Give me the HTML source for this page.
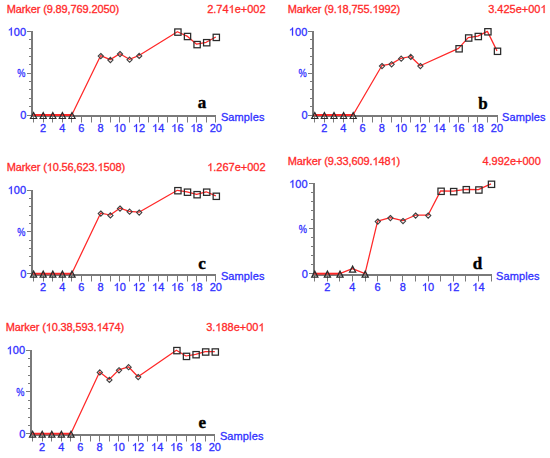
<!DOCTYPE html>
<html><head><meta charset="utf-8"><style>
html,body{margin:0;padding:0;background:#fff;}
svg{display:block;}
.t{font-family:"Liberation Sans",sans-serif;font-size:11px;stroke-width:0.3;}
.L{font-family:"Liberation Serif",serif;font-size:17px;font-weight:bold;fill:#000;stroke:#000;stroke-width:0.4;}
.ti{letter-spacing:-0.12px;}
.one{fill-opacity:0;stroke-opacity:0;}
.m{fill:none;stroke:#333333;stroke-width:1.2;}
.md{stroke:#404040;stroke-width:1.1;}
.ms{stroke:#2a2a2a;stroke-width:1.25;}
.mt{stroke:#2a2a2a;stroke-width:1.2;}
</style></head><body>
<svg width="550" height="458" viewBox="0 0 550 458">
<rect width="550" height="458" fill="#fff"/>
<g transform="translate(0,0)">
<text x="6.7" y="13" fill="#ff2a2a" stroke="#ff2a2a" class="t ti">Marker (9.89,769.2050)</text>
<text x="265.6" y="13" fill="#ff2a2a" stroke="#ff2a2a" class="t" text-anchor="end">2.74<tspan class="one">1</tspan>e+002</text>
</g>
<g transform="translate(0,0)">
<line x1="32" y1="31" x2="32" y2="117" stroke="#7a7a7a" stroke-width="2"/>
<line x1="31" y1="116" x2="216" y2="116" stroke="#7a7a7a" stroke-width="2"/>
<path d="M27 31.5H31 M29 39.5H31 M29 48.5H31 M29 56.5H31 M29 64.5H31 M27 73.5H31 M29 81.5H31 M29 89.5H31 M29 98.5H31 M29 106.5H31 M27 115.5H31" stroke="#7a7a7a" stroke-width="1"/>
<text transform="translate(26.1,35.5) scale(1.0,1)" fill="#3030ff" stroke="#3030ff" class="t" text-anchor="end"><tspan class="one">1</tspan>00</text>
<text transform="translate(25.4,77.25) scale(0.84,1)" fill="#3030ff" stroke="#3030ff" class="t" text-anchor="end">%</text>
<text transform="translate(26.3,119) scale(1.0,1)" fill="#3030ff" stroke="#3030ff" class="t" text-anchor="end">0</text>
<path d="M33.5 117V122.5 M43.5 117V122.5 M52.5 117V122.5 M62.5 117V122.5 M71.5 117V122.5 M81.5 117V122.5 M91.5 117V122.5 M100.5 117V122.5 M110.5 117V122.5 M119.5 117V122.5 M129.5 117V122.5 M139.5 117V122.5 M148.5 117V122.5 M158.5 117V122.5 M167.5 117V122.5 M177.5 117V122.5 M187.5 117V122.5 M196.5 117V122.5 M206.5 117V122.5 M215.5 117V122.5" stroke="#7a7a7a" stroke-width="1"/>
<text x="43" y="132" fill="#3030ff" stroke="#3030ff" class="t" text-anchor="middle">2</text>
<text x="62.2" y="132" fill="#3030ff" stroke="#3030ff" class="t" text-anchor="middle">4</text>
<text x="81.4" y="132" fill="#3030ff" stroke="#3030ff" class="t" text-anchor="middle">6</text>
<text x="100.6" y="132" fill="#3030ff" stroke="#3030ff" class="t" text-anchor="middle">8</text>
<text x="119.8" y="132" fill="#3030ff" stroke="#3030ff" class="t" text-anchor="middle"><tspan class="one">1</tspan>0</text>
<text x="139" y="132" fill="#3030ff" stroke="#3030ff" class="t" text-anchor="middle"><tspan class="one">1</tspan>2</text>
<text x="158.2" y="132" fill="#3030ff" stroke="#3030ff" class="t" text-anchor="middle"><tspan class="one">1</tspan>4</text>
<text x="177.4" y="132" fill="#3030ff" stroke="#3030ff" class="t" text-anchor="middle"><tspan class="one">1</tspan>6</text>
<text x="196.6" y="132" fill="#3030ff" stroke="#3030ff" class="t" text-anchor="middle"><tspan class="one">1</tspan>8</text>
<text x="215.8" y="132" fill="#3030ff" stroke="#3030ff" class="t" text-anchor="middle">20</text>
<text x="220.9" y="120.9" fill="#3030ff" stroke="#3030ff" class="t" style="letter-spacing:0.12px">Samples</text>
<text x="197.8" y="108.4" class="L">a</text>
<polyline points="33.4,115 43,115 52.6,115 62.2,115 71.8,115 100.6,55.7 110.2,59.6 119.8,53.7 129.4,59.3 139,55.5 177.4,31.7 187,36.1 196.6,44.2 206.2,42.3 215.8,37" fill="none" stroke="#ff2828" stroke-width="1.25" stroke-linejoin="round"/>
<line x1="33.4" y1="115" x2="71.8" y2="115" stroke="#ff2828" stroke-width="1.8"/>
<path d="M33.6 112.5L36.7 118.5L30.5 118.5Z" class="m mt"/>
<path d="M43.2 112.5L46.3 118.5L40.1 118.5Z" class="m mt"/>
<path d="M52.8 112.5L55.9 118.5L49.7 118.5Z" class="m mt"/>
<path d="M62.4 112.5L65.5 118.5L59.3 118.5Z" class="m mt"/>
<path d="M72 112.5L75.1 118.5L68.9 118.5Z" class="m mt"/>
<path d="M100.8 53.5L103.4 56.1L100.8 58.7L98.2 56.1Z" class="m md"/>
<path d="M110.4 57.4L113 60L110.4 62.6L107.8 60Z" class="m md"/>
<path d="M120 51.5L122.6 54.1L120 56.7L117.4 54.1Z" class="m md"/>
<path d="M129.6 57.1L132.2 59.7L129.6 62.3L127 59.7Z" class="m md"/>
<path d="M139.2 53.3L141.8 55.9L139.2 58.5L136.6 55.9Z" class="m md"/>
<rect x="174.75" y="28.95" width="6.3" height="6.3" class="m ms"/>
<rect x="184.35" y="33.35" width="6.3" height="6.3" class="m ms"/>
<rect x="193.95" y="41.45" width="6.3" height="6.3" class="m ms"/>
<rect x="203.55" y="39.55" width="6.3" height="6.3" class="m ms"/>
<rect x="213.15" y="34.25" width="6.3" height="6.3" class="m ms"/>
</g>
<g transform="translate(281,0)">
<text x="6.7" y="13" fill="#ff2a2a" stroke="#ff2a2a" class="t ti">Marker (9.<tspan class="one">1</tspan>8,755.<tspan class="one">1</tspan>992)</text>
<text x="265.6" y="13" fill="#ff2a2a" stroke="#ff2a2a" class="t" text-anchor="end">3.425e+00<tspan class="one">1</tspan></text>
</g>
<g transform="translate(281.2,0)">
<line x1="31.8" y1="31" x2="31.8" y2="117" stroke="#7a7a7a" stroke-width="2"/>
<line x1="30.8" y1="116" x2="216.8" y2="116" stroke="#7a7a7a" stroke-width="2"/>
<path d="M26.8 31.5H30.8 M28.8 39.5H30.8 M28.8 48.5H30.8 M28.8 56.5H30.8 M28.8 64.5H30.8 M26.8 73.5H30.8 M28.8 81.5H30.8 M28.8 89.5H30.8 M28.8 98.5H30.8 M28.8 106.5H30.8 M26.8 115.5H30.8" stroke="#7a7a7a" stroke-width="1"/>
<text transform="translate(26.1,35.5) scale(1.0,1)" fill="#3030ff" stroke="#3030ff" class="t" text-anchor="end"><tspan class="one">1</tspan>00</text>
<text transform="translate(25.4,77.25) scale(0.84,1)" fill="#3030ff" stroke="#3030ff" class="t" text-anchor="end">%</text>
<text transform="translate(26.3,119) scale(1.0,1)" fill="#3030ff" stroke="#3030ff" class="t" text-anchor="end">0</text>
<path d="M33.3 117V122.5 M43.3 117V122.5 M52.3 117V122.5 M62.3 117V122.5 M72.3 117V122.5 M81.3 117V122.5 M91.3 117V122.5 M100.3 117V122.5 M110.3 117V122.5 M120.3 117V122.5 M129.3 117V122.5 M139.3 117V122.5 M148.3 117V122.5 M158.3 117V122.5 M168.3 117V122.5 M177.3 117V122.5 M187.3 117V122.5 M196.3 117V122.5 M206.3 117V122.5 M216.3 117V122.5" stroke="#7a7a7a" stroke-width="1"/>
<text x="43" y="132" fill="#3030ff" stroke="#3030ff" class="t" text-anchor="middle">2</text>
<text x="62.2" y="132" fill="#3030ff" stroke="#3030ff" class="t" text-anchor="middle">4</text>
<text x="81.4" y="132" fill="#3030ff" stroke="#3030ff" class="t" text-anchor="middle">6</text>
<text x="100.6" y="132" fill="#3030ff" stroke="#3030ff" class="t" text-anchor="middle">8</text>
<text x="119.8" y="132" fill="#3030ff" stroke="#3030ff" class="t" text-anchor="middle"><tspan class="one">1</tspan>0</text>
<text x="139" y="132" fill="#3030ff" stroke="#3030ff" class="t" text-anchor="middle"><tspan class="one">1</tspan>2</text>
<text x="158.2" y="132" fill="#3030ff" stroke="#3030ff" class="t" text-anchor="middle"><tspan class="one">1</tspan>4</text>
<text x="177.4" y="132" fill="#3030ff" stroke="#3030ff" class="t" text-anchor="middle"><tspan class="one">1</tspan>6</text>
<text x="196.6" y="132" fill="#3030ff" stroke="#3030ff" class="t" text-anchor="middle"><tspan class="one">1</tspan>8</text>
<text x="215.8" y="132" fill="#3030ff" stroke="#3030ff" class="t" text-anchor="middle">20</text>
<text x="220.9" y="120.9" fill="#3030ff" stroke="#3030ff" class="t" style="letter-spacing:0.12px">Samples</text>
<text x="197.1" y="108.7" class="L">b</text>
<polyline points="33.4,115 43,115 52.6,115 62.2,115 71.8,115 100.6,65.7 110.2,63.9 119.8,58.3 129.4,56.5 139,65.7 177.4,48.4 187,37.6 196.6,36.1 206.2,31.4 215.8,50.9" fill="none" stroke="#ff2828" stroke-width="1.25" stroke-linejoin="round"/>
<line x1="33.4" y1="115" x2="71.8" y2="115" stroke="#ff2828" stroke-width="1.8"/>
<path d="M33.6 112.5L36.7 118.5L30.5 118.5Z" class="m mt"/>
<path d="M43.2 112.5L46.3 118.5L40.1 118.5Z" class="m mt"/>
<path d="M52.8 112.5L55.9 118.5L49.7 118.5Z" class="m mt"/>
<path d="M62.4 112.5L65.5 118.5L59.3 118.5Z" class="m mt"/>
<path d="M72 112.5L75.1 118.5L68.9 118.5Z" class="m mt"/>
<path d="M100.8 63.5L103.4 66.1L100.8 68.7L98.2 66.1Z" class="m md"/>
<path d="M110.4 61.7L113 64.3L110.4 66.9L107.8 64.3Z" class="m md"/>
<path d="M120 56.1L122.6 58.7L120 61.3L117.4 58.7Z" class="m md"/>
<path d="M129.6 54.3L132.2 56.9L129.6 59.5L127 56.9Z" class="m md"/>
<path d="M139.2 63.5L141.8 66.1L139.2 68.7L136.6 66.1Z" class="m md"/>
<rect x="174.75" y="45.65" width="6.3" height="6.3" class="m ms"/>
<rect x="184.35" y="34.85" width="6.3" height="6.3" class="m ms"/>
<rect x="193.95" y="33.35" width="6.3" height="6.3" class="m ms"/>
<rect x="203.55" y="28.65" width="6.3" height="6.3" class="m ms"/>
<rect x="213.15" y="48.15" width="6.3" height="6.3" class="m ms"/>
</g>
<g transform="translate(0,158.1)">
<text x="6.7" y="13" fill="#ff2a2a" stroke="#ff2a2a" class="t ti">Marker (<tspan class="one">1</tspan>0.56,623.<tspan class="one">1</tspan>508)</text>
<text x="265.6" y="13" fill="#ff2a2a" stroke="#ff2a2a" class="t" text-anchor="end"><tspan class="one">1</tspan>.267e+002</text>
</g>
<g transform="translate(0,158.6)">
<line x1="32" y1="31.4" x2="32" y2="117.4" stroke="#7a7a7a" stroke-width="2"/>
<line x1="31" y1="116.4" x2="216" y2="116.4" stroke="#7a7a7a" stroke-width="2"/>
<path d="M27 31.9H31 M29 39.9H31 M29 47.9H31 M29 56.9H31 M29 64.9H31 M27 72.9H31 M29 81.9H31 M29 89.9H31 M29 97.9H31 M29 106.9H31 M27 114.9H31" stroke="#7a7a7a" stroke-width="1"/>
<text transform="translate(26.1,35.5) scale(1.0,1)" fill="#3030ff" stroke="#3030ff" class="t" text-anchor="end"><tspan class="one">1</tspan>00</text>
<text transform="translate(25.4,77.25) scale(0.84,1)" fill="#3030ff" stroke="#3030ff" class="t" text-anchor="end">%</text>
<text transform="translate(26.3,119) scale(1.0,1)" fill="#3030ff" stroke="#3030ff" class="t" text-anchor="end">0</text>
<path d="M33.5 117.4V122.9 M43.5 117.4V122.9 M52.5 117.4V122.9 M62.5 117.4V122.9 M71.5 117.4V122.9 M81.5 117.4V122.9 M91.5 117.4V122.9 M100.5 117.4V122.9 M110.5 117.4V122.9 M119.5 117.4V122.9 M129.5 117.4V122.9 M139.5 117.4V122.9 M148.5 117.4V122.9 M158.5 117.4V122.9 M167.5 117.4V122.9 M177.5 117.4V122.9 M187.5 117.4V122.9 M196.5 117.4V122.9 M206.5 117.4V122.9 M215.5 117.4V122.9" stroke="#7a7a7a" stroke-width="1"/>
<text x="43" y="132.4" fill="#3030ff" stroke="#3030ff" class="t" text-anchor="middle">2</text>
<text x="62.2" y="132.4" fill="#3030ff" stroke="#3030ff" class="t" text-anchor="middle">4</text>
<text x="81.4" y="132.4" fill="#3030ff" stroke="#3030ff" class="t" text-anchor="middle">6</text>
<text x="100.6" y="132.4" fill="#3030ff" stroke="#3030ff" class="t" text-anchor="middle">8</text>
<text x="119.8" y="132.4" fill="#3030ff" stroke="#3030ff" class="t" text-anchor="middle"><tspan class="one">1</tspan>0</text>
<text x="139" y="132.4" fill="#3030ff" stroke="#3030ff" class="t" text-anchor="middle"><tspan class="one">1</tspan>2</text>
<text x="158.2" y="132.4" fill="#3030ff" stroke="#3030ff" class="t" text-anchor="middle"><tspan class="one">1</tspan>4</text>
<text x="177.4" y="132.4" fill="#3030ff" stroke="#3030ff" class="t" text-anchor="middle"><tspan class="one">1</tspan>6</text>
<text x="196.6" y="132.4" fill="#3030ff" stroke="#3030ff" class="t" text-anchor="middle"><tspan class="one">1</tspan>8</text>
<text x="215.8" y="132.4" fill="#3030ff" stroke="#3030ff" class="t" text-anchor="middle">20</text>
<text x="220.9" y="121.3" fill="#3030ff" stroke="#3030ff" class="t" style="letter-spacing:0.12px">Samples</text>
<text x="198.3" y="110.1" class="L">c</text>
<polyline points="33.4,115 43,115 52.6,115 62.2,115 71.8,115 100.6,54.6 110.2,56.4 119.8,49.6 129.4,52.7 139,53.6 177.4,31.7 187,33.2 196.6,35.7 206.2,33.2 215.8,37.3" fill="none" stroke="#ff2828" stroke-width="1.25" stroke-linejoin="round"/>
<line x1="33.4" y1="115" x2="71.8" y2="115" stroke="#ff2828" stroke-width="1.8"/>
<path d="M33.6 112.5L36.7 118.5L30.5 118.5Z" class="m mt"/>
<path d="M43.2 112.5L46.3 118.5L40.1 118.5Z" class="m mt"/>
<path d="M52.8 112.5L55.9 118.5L49.7 118.5Z" class="m mt"/>
<path d="M62.4 112.5L65.5 118.5L59.3 118.5Z" class="m mt"/>
<path d="M72 112.5L75.1 118.5L68.9 118.5Z" class="m mt"/>
<path d="M100.8 52.4L103.4 55L100.8 57.6L98.2 55Z" class="m md"/>
<path d="M110.4 54.2L113 56.8L110.4 59.4L107.8 56.8Z" class="m md"/>
<path d="M120 47.4L122.6 50L120 52.6L117.4 50Z" class="m md"/>
<path d="M129.6 50.5L132.2 53.1L129.6 55.7L127 53.1Z" class="m md"/>
<path d="M139.2 51.4L141.8 54L139.2 56.6L136.6 54Z" class="m md"/>
<rect x="174.75" y="28.95" width="6.3" height="6.3" class="m ms"/>
<rect x="184.35" y="30.45" width="6.3" height="6.3" class="m ms"/>
<rect x="193.95" y="32.95" width="6.3" height="6.3" class="m ms"/>
<rect x="203.55" y="30.45" width="6.3" height="6.3" class="m ms"/>
<rect x="213.15" y="34.55" width="6.3" height="6.3" class="m ms"/>
</g>
<g transform="translate(281,152.2)">
<text x="6.7" y="13" fill="#ff2a2a" stroke="#ff2a2a" class="t ti">Marker (9.33,609.<tspan class="one">1</tspan>48<tspan class="one">1</tspan>)</text>
<text x="259.8" y="13" fill="#ff2a2a" stroke="#ff2a2a" class="t" text-anchor="end">4.992e+000</text>
</g>
<g transform="translate(281.5,152.3)">
<line x1="32.5" y1="30.7" x2="32.5" y2="123.7" stroke="#7a7a7a" stroke-width="2"/>
<line x1="31.5" y1="122.7" x2="210.5" y2="122.7" stroke="#7a7a7a" stroke-width="2"/>
<path d="M27.5 31.2H31.5 M29.5 40.2H31.5 M29.5 49.2H31.5 M29.5 58.2H31.5 M29.5 67.2H31.5 M27.5 76.2H31.5 M29.5 85.2H31.5 M29.5 94.2H31.5 M29.5 103.2H31.5 M29.5 112.2H31.5 M27.5 121.2H31.5" stroke="#7a7a7a" stroke-width="1"/>
<text transform="translate(26.1,35.5) scale(1.0,1)" fill="#3030ff" stroke="#3030ff" class="t" text-anchor="end"><tspan class="one">1</tspan>00</text>
<text transform="translate(25.4,80.4) scale(0.84,1)" fill="#3030ff" stroke="#3030ff" class="t" text-anchor="end">%</text>
<text transform="translate(26.3,125.3) scale(1.0,1)" fill="#3030ff" stroke="#3030ff" class="t" text-anchor="end">0</text>
<path d="M33 123.7V129.2 M46 123.7V129.2 M58 123.7V129.2 M71 123.7V129.2 M84 123.7V129.2 M96 123.7V129.2 M109 123.7V129.2 M121 123.7V129.2 M134 123.7V129.2 M147 123.7V129.2 M159 123.7V129.2 M172 123.7V129.2 M184 123.7V129.2 M197 123.7V129.2 M210 123.7V129.2" stroke="#7a7a7a" stroke-width="1"/>
<text x="45.7" y="138.7" fill="#3030ff" stroke="#3030ff" class="t" text-anchor="middle">2</text>
<text x="70.9" y="138.7" fill="#3030ff" stroke="#3030ff" class="t" text-anchor="middle">4</text>
<text x="96.1" y="138.7" fill="#3030ff" stroke="#3030ff" class="t" text-anchor="middle">6</text>
<text x="121.3" y="138.7" fill="#3030ff" stroke="#3030ff" class="t" text-anchor="middle">8</text>
<text x="146.5" y="138.7" fill="#3030ff" stroke="#3030ff" class="t" text-anchor="middle"><tspan class="one">1</tspan>0</text>
<text x="171.7" y="138.7" fill="#3030ff" stroke="#3030ff" class="t" text-anchor="middle"><tspan class="one">1</tspan>2</text>
<text x="196.9" y="138.7" fill="#3030ff" stroke="#3030ff" class="t" text-anchor="middle"><tspan class="one">1</tspan>4</text>
<text x="214.6" y="127.6" fill="#3030ff" stroke="#3030ff" class="t" style="letter-spacing:0.12px">Samples</text>
<text x="191.2" y="116.4" class="L">d</text>
<polyline points="33.1,121.3 45.7,121.3 58.3,121.3 70.9,116.3 83.5,121.3 96.1,68.9 108.7,65.4 121.3,68.4 133.9,62.9 146.5,62.9 159.1,38.6 171.7,38.9 184.3,37 196.9,37.3 209.5,31.6" fill="none" stroke="#ff2828" stroke-width="1.25" stroke-linejoin="round"/>
<line x1="33.1" y1="121.3" x2="58.3" y2="121.3" stroke="#ff2828" stroke-width="1.8"/>
<path d="M33.3 118.8L36.4 124.8L30.2 124.8Z" class="m mt"/>
<path d="M45.9 118.8L49 124.8L42.8 124.8Z" class="m mt"/>
<path d="M58.5 118.8L61.6 124.8L55.4 124.8Z" class="m mt"/>
<path d="M71.1 113.8L74.2 119.8L68 119.8Z" class="m mt"/>
<path d="M83.7 118.8L86.8 124.8L80.6 124.8Z" class="m mt"/>
<path d="M96.3 66.7L98.9 69.3L96.3 71.9L93.7 69.3Z" class="m md"/>
<path d="M108.9 63.2L111.5 65.8L108.9 68.4L106.3 65.8Z" class="m md"/>
<path d="M121.5 66.2L124.1 68.8L121.5 71.4L118.9 68.8Z" class="m md"/>
<path d="M134.1 60.7L136.7 63.3L134.1 65.9L131.5 63.3Z" class="m md"/>
<path d="M146.7 60.7L149.3 63.3L146.7 65.9L144.1 63.3Z" class="m md"/>
<rect x="156.45" y="35.85" width="6.3" height="6.3" class="m ms"/>
<rect x="169.05" y="36.15" width="6.3" height="6.3" class="m ms"/>
<rect x="181.65" y="34.25" width="6.3" height="6.3" class="m ms"/>
<rect x="194.25" y="34.55" width="6.3" height="6.3" class="m ms"/>
<rect x="206.85" y="28.85" width="6.3" height="6.3" class="m ms"/>
</g>
<g transform="translate(-1,318.2)">
<text x="6.7" y="13" fill="#ff2a2a" stroke="#ff2a2a" class="t ti">Marker (<tspan class="one">1</tspan>0.38,593.<tspan class="one">1</tspan>474)</text>
<text x="265.6" y="13" fill="#ff2a2a" stroke="#ff2a2a" class="t" text-anchor="end">3.<tspan class="one">1</tspan>88e+00<tspan class="one">1</tspan></text>
</g>
<g transform="translate(-1,318.7)">
<line x1="32" y1="31.3" x2="32" y2="117.3" stroke="#7a7a7a" stroke-width="2"/>
<line x1="31" y1="116.3" x2="216" y2="116.3" stroke="#7a7a7a" stroke-width="2"/>
<path d="M27 31.8H31 M29 39.8H31 M29 47.8H31 M29 56.8H31 M29 64.8H31 M27 72.8H31 M29 81.8H31 M29 89.8H31 M29 98.8H31 M29 106.8H31 M27 114.8H31" stroke="#7a7a7a" stroke-width="1"/>
<text transform="translate(26.1,35.5) scale(1.0,1)" fill="#3030ff" stroke="#3030ff" class="t" text-anchor="end"><tspan class="one">1</tspan>00</text>
<text transform="translate(25.4,77.25) scale(0.84,1)" fill="#3030ff" stroke="#3030ff" class="t" text-anchor="end">%</text>
<text transform="translate(26.3,119) scale(1.0,1)" fill="#3030ff" stroke="#3030ff" class="t" text-anchor="end">0</text>
<path d="M33.5 117.3V122.8 M43.5 117.3V122.8 M52.5 117.3V122.8 M62.5 117.3V122.8 M71.5 117.3V122.8 M81.5 117.3V122.8 M91.5 117.3V122.8 M100.5 117.3V122.8 M110.5 117.3V122.8 M119.5 117.3V122.8 M129.5 117.3V122.8 M139.5 117.3V122.8 M148.5 117.3V122.8 M158.5 117.3V122.8 M167.5 117.3V122.8 M177.5 117.3V122.8 M187.5 117.3V122.8 M196.5 117.3V122.8 M206.5 117.3V122.8 M215.5 117.3V122.8" stroke="#7a7a7a" stroke-width="1"/>
<text x="43" y="132.3" fill="#3030ff" stroke="#3030ff" class="t" text-anchor="middle">2</text>
<text x="62.2" y="132.3" fill="#3030ff" stroke="#3030ff" class="t" text-anchor="middle">4</text>
<text x="81.4" y="132.3" fill="#3030ff" stroke="#3030ff" class="t" text-anchor="middle">6</text>
<text x="100.6" y="132.3" fill="#3030ff" stroke="#3030ff" class="t" text-anchor="middle">8</text>
<text x="119.8" y="132.3" fill="#3030ff" stroke="#3030ff" class="t" text-anchor="middle"><tspan class="one">1</tspan>0</text>
<text x="139" y="132.3" fill="#3030ff" stroke="#3030ff" class="t" text-anchor="middle"><tspan class="one">1</tspan>2</text>
<text x="158.2" y="132.3" fill="#3030ff" stroke="#3030ff" class="t" text-anchor="middle"><tspan class="one">1</tspan>4</text>
<text x="177.4" y="132.3" fill="#3030ff" stroke="#3030ff" class="t" text-anchor="middle"><tspan class="one">1</tspan>6</text>
<text x="196.6" y="132.3" fill="#3030ff" stroke="#3030ff" class="t" text-anchor="middle"><tspan class="one">1</tspan>8</text>
<text x="215.8" y="132.3" fill="#3030ff" stroke="#3030ff" class="t" text-anchor="middle">20</text>
<text x="220.9" y="121.2" fill="#3030ff" stroke="#3030ff" class="t" style="letter-spacing:0.12px">Samples</text>
<text x="199.4" y="109.1" class="L">e</text>
<polyline points="33.4,115 43,115 52.6,115 62.2,115 71.8,115 100.6,53.3 110.2,60.8 119.8,51.2 129.4,48.1 139,58 177.4,31.5 187,37.3 196.6,35.6 206.2,32.9 215.8,32.9" fill="none" stroke="#ff2828" stroke-width="1.25" stroke-linejoin="round"/>
<line x1="33.4" y1="115" x2="71.8" y2="115" stroke="#ff2828" stroke-width="1.8"/>
<path d="M33.6 112.5L36.7 118.5L30.5 118.5Z" class="m mt"/>
<path d="M43.2 112.5L46.3 118.5L40.1 118.5Z" class="m mt"/>
<path d="M52.8 112.5L55.9 118.5L49.7 118.5Z" class="m mt"/>
<path d="M62.4 112.5L65.5 118.5L59.3 118.5Z" class="m mt"/>
<path d="M72 112.5L75.1 118.5L68.9 118.5Z" class="m mt"/>
<path d="M100.8 51.1L103.4 53.7L100.8 56.3L98.2 53.7Z" class="m md"/>
<path d="M110.4 58.6L113 61.2L110.4 63.8L107.8 61.2Z" class="m md"/>
<path d="M120 49L122.6 51.6L120 54.2L117.4 51.6Z" class="m md"/>
<path d="M129.6 45.9L132.2 48.5L129.6 51.1L127 48.5Z" class="m md"/>
<path d="M139.2 55.8L141.8 58.4L139.2 61L136.6 58.4Z" class="m md"/>
<rect x="174.75" y="28.75" width="6.3" height="6.3" class="m ms"/>
<rect x="184.35" y="34.55" width="6.3" height="6.3" class="m ms"/>
<rect x="193.95" y="32.85" width="6.3" height="6.3" class="m ms"/>
<rect x="203.55" y="30.15" width="6.3" height="6.3" class="m ms"/>
<rect x="213.15" y="30.15" width="6.3" height="6.3" class="m ms"/>
</g>
<path transform="translate(228.57,13.00) scale(0.005371,-0.005371)" d="M763 0H583V1147Q518 1085 412.5 1023T223 930V1104Q375 1175 489 1276T650 1472H763V0Z" fill="#ff2a2a" stroke="#ff2a2a" stroke-width="0.3" vector-effect="non-scaling-stroke"/>
<path transform="translate(7.73,35.50) scale(0.005371,-0.005371)" d="M763 0H583V1147Q518 1085 412.5 1023T223 930V1104Q375 1175 489 1276T650 1472H763V0Z" fill="#3030ff" stroke="#3030ff" stroke-width="0.3" vector-effect="non-scaling-stroke"/>
<path transform="translate(113.68,132.00) scale(0.005371,-0.005371)" d="M763 0H583V1147Q518 1085 412.5 1023T223 930V1104Q375 1175 489 1276T650 1472H763V0Z" fill="#3030ff" stroke="#3030ff" stroke-width="0.3" vector-effect="non-scaling-stroke"/>
<path transform="translate(132.88,132.00) scale(0.005371,-0.005371)" d="M763 0H583V1147Q518 1085 412.5 1023T223 930V1104Q375 1175 489 1276T650 1472H763V0Z" fill="#3030ff" stroke="#3030ff" stroke-width="0.3" vector-effect="non-scaling-stroke"/>
<path transform="translate(152.07,132.00) scale(0.005371,-0.005371)" d="M763 0H583V1147Q518 1085 412.5 1023T223 930V1104Q375 1175 489 1276T650 1472H763V0Z" fill="#3030ff" stroke="#3030ff" stroke-width="0.3" vector-effect="non-scaling-stroke"/>
<path transform="translate(171.27,132.00) scale(0.005371,-0.005371)" d="M763 0H583V1147Q518 1085 412.5 1023T223 930V1104Q375 1175 489 1276T650 1472H763V0Z" fill="#3030ff" stroke="#3030ff" stroke-width="0.3" vector-effect="non-scaling-stroke"/>
<path transform="translate(190.48,132.00) scale(0.005371,-0.005371)" d="M763 0H583V1147Q518 1085 412.5 1023T223 930V1104Q375 1175 489 1276T650 1472H763V0Z" fill="#3030ff" stroke="#3030ff" stroke-width="0.3" vector-effect="non-scaling-stroke"/>
<path transform="translate(336.62,13.00) scale(0.005371,-0.005371)" d="M763 0H583V1147Q518 1085 412.5 1023T223 930V1104Q375 1175 489 1276T650 1472H763V0Z" fill="#ff2a2a" stroke="#ff2a2a" stroke-width="0.3" vector-effect="non-scaling-stroke"/>
<path transform="translate(372.50,13.00) scale(0.005371,-0.005371)" d="M763 0H583V1147Q518 1085 412.5 1023T223 930V1104Q375 1175 489 1276T650 1472H763V0Z" fill="#ff2a2a" stroke="#ff2a2a" stroke-width="0.3" vector-effect="non-scaling-stroke"/>
<path transform="translate(540.47,13.00) scale(0.005371,-0.005371)" d="M763 0H583V1147Q518 1085 412.5 1023T223 930V1104Q375 1175 489 1276T650 1472H763V0Z" fill="#ff2a2a" stroke="#ff2a2a" stroke-width="0.3" vector-effect="non-scaling-stroke"/>
<path transform="translate(288.93,35.50) scale(0.005371,-0.005371)" d="M763 0H583V1147Q518 1085 412.5 1023T223 930V1104Q375 1175 489 1276T650 1472H763V0Z" fill="#3030ff" stroke="#3030ff" stroke-width="0.3" vector-effect="non-scaling-stroke"/>
<path transform="translate(394.88,132.00) scale(0.005371,-0.005371)" d="M763 0H583V1147Q518 1085 412.5 1023T223 930V1104Q375 1175 489 1276T650 1472H763V0Z" fill="#3030ff" stroke="#3030ff" stroke-width="0.3" vector-effect="non-scaling-stroke"/>
<path transform="translate(414.08,132.00) scale(0.005371,-0.005371)" d="M763 0H583V1147Q518 1085 412.5 1023T223 930V1104Q375 1175 489 1276T650 1472H763V0Z" fill="#3030ff" stroke="#3030ff" stroke-width="0.3" vector-effect="non-scaling-stroke"/>
<path transform="translate(433.28,132.00) scale(0.005371,-0.005371)" d="M763 0H583V1147Q518 1085 412.5 1023T223 930V1104Q375 1175 489 1276T650 1472H763V0Z" fill="#3030ff" stroke="#3030ff" stroke-width="0.3" vector-effect="non-scaling-stroke"/>
<path transform="translate(452.48,132.00) scale(0.005371,-0.005371)" d="M763 0H583V1147Q518 1085 412.5 1023T223 930V1104Q375 1175 489 1276T650 1472H763V0Z" fill="#3030ff" stroke="#3030ff" stroke-width="0.3" vector-effect="non-scaling-stroke"/>
<path transform="translate(471.68,132.00) scale(0.005371,-0.005371)" d="M763 0H583V1147Q518 1085 412.5 1023T223 930V1104Q375 1175 489 1276T650 1472H763V0Z" fill="#3030ff" stroke="#3030ff" stroke-width="0.3" vector-effect="non-scaling-stroke"/>
<path transform="translate(46.68,171.10) scale(0.005371,-0.005371)" d="M763 0H583V1147Q518 1085 412.5 1023T223 930V1104Q375 1175 489 1276T650 1472H763V0Z" fill="#ff2a2a" stroke="#ff2a2a" stroke-width="0.3" vector-effect="non-scaling-stroke"/>
<path transform="translate(97.48,171.10) scale(0.005371,-0.005371)" d="M763 0H583V1147Q518 1085 412.5 1023T223 930V1104Q375 1175 489 1276T650 1472H763V0Z" fill="#ff2a2a" stroke="#ff2a2a" stroke-width="0.3" vector-effect="non-scaling-stroke"/>
<path transform="translate(207.16,171.10) scale(0.005371,-0.005371)" d="M763 0H583V1147Q518 1085 412.5 1023T223 930V1104Q375 1175 489 1276T650 1472H763V0Z" fill="#ff2a2a" stroke="#ff2a2a" stroke-width="0.3" vector-effect="non-scaling-stroke"/>
<path transform="translate(7.73,194.10) scale(0.005371,-0.005371)" d="M763 0H583V1147Q518 1085 412.5 1023T223 930V1104Q375 1175 489 1276T650 1472H763V0Z" fill="#3030ff" stroke="#3030ff" stroke-width="0.3" vector-effect="non-scaling-stroke"/>
<path transform="translate(113.68,291.00) scale(0.005371,-0.005371)" d="M763 0H583V1147Q518 1085 412.5 1023T223 930V1104Q375 1175 489 1276T650 1472H763V0Z" fill="#3030ff" stroke="#3030ff" stroke-width="0.3" vector-effect="non-scaling-stroke"/>
<path transform="translate(132.88,291.00) scale(0.005371,-0.005371)" d="M763 0H583V1147Q518 1085 412.5 1023T223 930V1104Q375 1175 489 1276T650 1472H763V0Z" fill="#3030ff" stroke="#3030ff" stroke-width="0.3" vector-effect="non-scaling-stroke"/>
<path transform="translate(152.07,291.00) scale(0.005371,-0.005371)" d="M763 0H583V1147Q518 1085 412.5 1023T223 930V1104Q375 1175 489 1276T650 1472H763V0Z" fill="#3030ff" stroke="#3030ff" stroke-width="0.3" vector-effect="non-scaling-stroke"/>
<path transform="translate(171.27,291.00) scale(0.005371,-0.005371)" d="M763 0H583V1147Q518 1085 412.5 1023T223 930V1104Q375 1175 489 1276T650 1472H763V0Z" fill="#3030ff" stroke="#3030ff" stroke-width="0.3" vector-effect="non-scaling-stroke"/>
<path transform="translate(190.48,291.00) scale(0.005371,-0.005371)" d="M763 0H583V1147Q518 1085 412.5 1023T223 930V1104Q375 1175 489 1276T650 1472H763V0Z" fill="#3030ff" stroke="#3030ff" stroke-width="0.3" vector-effect="non-scaling-stroke"/>
<path transform="translate(372.48,165.20) scale(0.005371,-0.005371)" d="M763 0H583V1147Q518 1085 412.5 1023T223 930V1104Q375 1175 489 1276T650 1472H763V0Z" fill="#ff2a2a" stroke="#ff2a2a" stroke-width="0.3" vector-effect="non-scaling-stroke"/>
<path transform="translate(390.48,165.20) scale(0.005371,-0.005371)" d="M763 0H583V1147Q518 1085 412.5 1023T223 930V1104Q375 1175 489 1276T650 1472H763V0Z" fill="#ff2a2a" stroke="#ff2a2a" stroke-width="0.3" vector-effect="non-scaling-stroke"/>
<path transform="translate(289.23,187.80) scale(0.005371,-0.005371)" d="M763 0H583V1147Q518 1085 412.5 1023T223 930V1104Q375 1175 489 1276T650 1472H763V0Z" fill="#3030ff" stroke="#3030ff" stroke-width="0.3" vector-effect="non-scaling-stroke"/>
<path transform="translate(421.88,291.00) scale(0.005371,-0.005371)" d="M763 0H583V1147Q518 1085 412.5 1023T223 930V1104Q375 1175 489 1276T650 1472H763V0Z" fill="#3030ff" stroke="#3030ff" stroke-width="0.3" vector-effect="non-scaling-stroke"/>
<path transform="translate(447.08,291.00) scale(0.005371,-0.005371)" d="M763 0H583V1147Q518 1085 412.5 1023T223 930V1104Q375 1175 489 1276T650 1472H763V0Z" fill="#3030ff" stroke="#3030ff" stroke-width="0.3" vector-effect="non-scaling-stroke"/>
<path transform="translate(472.27,291.00) scale(0.005371,-0.005371)" d="M763 0H583V1147Q518 1085 412.5 1023T223 930V1104Q375 1175 489 1276T650 1472H763V0Z" fill="#3030ff" stroke="#3030ff" stroke-width="0.3" vector-effect="non-scaling-stroke"/>
<path transform="translate(45.68,331.20) scale(0.005371,-0.005371)" d="M763 0H583V1147Q518 1085 412.5 1023T223 930V1104Q375 1175 489 1276T650 1472H763V0Z" fill="#ff2a2a" stroke="#ff2a2a" stroke-width="0.3" vector-effect="non-scaling-stroke"/>
<path transform="translate(96.48,331.20) scale(0.005371,-0.005371)" d="M763 0H583V1147Q518 1085 412.5 1023T223 930V1104Q375 1175 489 1276T650 1472H763V0Z" fill="#ff2a2a" stroke="#ff2a2a" stroke-width="0.3" vector-effect="non-scaling-stroke"/>
<path transform="translate(215.33,331.20) scale(0.005371,-0.005371)" d="M763 0H583V1147Q518 1085 412.5 1023T223 930V1104Q375 1175 489 1276T650 1472H763V0Z" fill="#ff2a2a" stroke="#ff2a2a" stroke-width="0.3" vector-effect="non-scaling-stroke"/>
<path transform="translate(258.48,331.20) scale(0.005371,-0.005371)" d="M763 0H583V1147Q518 1085 412.5 1023T223 930V1104Q375 1175 489 1276T650 1472H763V0Z" fill="#ff2a2a" stroke="#ff2a2a" stroke-width="0.3" vector-effect="non-scaling-stroke"/>
<path transform="translate(6.73,354.20) scale(0.005371,-0.005371)" d="M763 0H583V1147Q518 1085 412.5 1023T223 930V1104Q375 1175 489 1276T650 1472H763V0Z" fill="#3030ff" stroke="#3030ff" stroke-width="0.3" vector-effect="non-scaling-stroke"/>
<path transform="translate(112.68,451.00) scale(0.005371,-0.005371)" d="M763 0H583V1147Q518 1085 412.5 1023T223 930V1104Q375 1175 489 1276T650 1472H763V0Z" fill="#3030ff" stroke="#3030ff" stroke-width="0.3" vector-effect="non-scaling-stroke"/>
<path transform="translate(131.88,451.00) scale(0.005371,-0.005371)" d="M763 0H583V1147Q518 1085 412.5 1023T223 930V1104Q375 1175 489 1276T650 1472H763V0Z" fill="#3030ff" stroke="#3030ff" stroke-width="0.3" vector-effect="non-scaling-stroke"/>
<path transform="translate(151.07,451.00) scale(0.005371,-0.005371)" d="M763 0H583V1147Q518 1085 412.5 1023T223 930V1104Q375 1175 489 1276T650 1472H763V0Z" fill="#3030ff" stroke="#3030ff" stroke-width="0.3" vector-effect="non-scaling-stroke"/>
<path transform="translate(170.27,451.00) scale(0.005371,-0.005371)" d="M763 0H583V1147Q518 1085 412.5 1023T223 930V1104Q375 1175 489 1276T650 1472H763V0Z" fill="#3030ff" stroke="#3030ff" stroke-width="0.3" vector-effect="non-scaling-stroke"/>
<path transform="translate(189.48,451.00) scale(0.005371,-0.005371)" d="M763 0H583V1147Q518 1085 412.5 1023T223 930V1104Q375 1175 489 1276T650 1472H763V0Z" fill="#3030ff" stroke="#3030ff" stroke-width="0.3" vector-effect="non-scaling-stroke"/>
</svg>
</body></html>
